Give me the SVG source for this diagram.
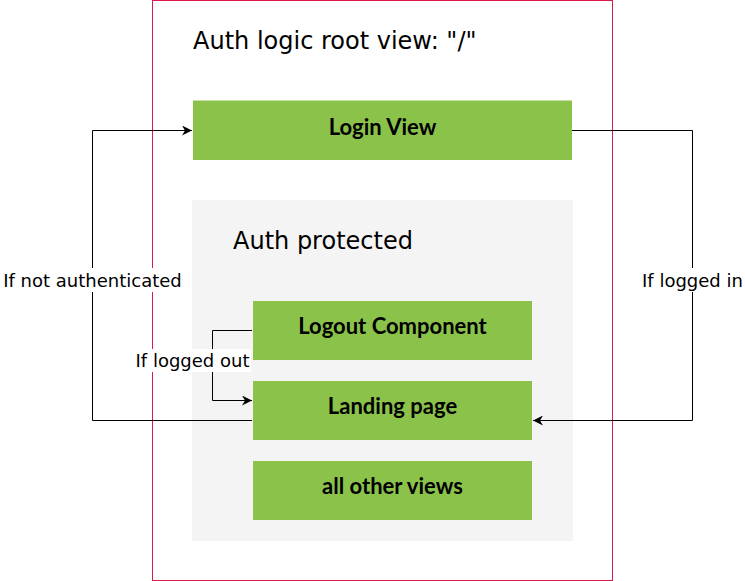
<svg xmlns="http://www.w3.org/2000/svg" width="745" height="581" viewBox="0 0 745 581">
<style>
.node{fill:#8BC34A;}
.nt{font-family:Lato,"Liberation Sans",sans-serif;font-weight:bold;font-size:22px;fill:#000;text-anchor:middle;}
.edge{fill:none;stroke:#000;stroke-width:1;}
.lbl{font-family:"DejaVu Sans",sans-serif;font-size:18px;fill:#000;text-anchor:middle;}
.title{font-family:"DejaVu Sans",sans-serif;font-size:24px;fill:#000;}
</style>
<defs>
<marker id="arr" markerWidth="10" markerHeight="10" refX="10" refY="5" orient="auto" markerUnits="userSpaceOnUse">
<path d="M0,0 L10,5 L0,10 L3,5 Z" fill="#000"/>
</marker>
</defs>
<rect width="745" height="581" fill="#fff"/>
<g id="root">
<rect x="152.5" y="0.5" width="460" height="580" fill="#fff" stroke="#DD1A4B" stroke-width="1"/>
<text class="title" x="193" y="49">Auth logic root view: "/"</text>
</g>
<g id="protected">
<rect x="192" y="200" width="381" height="341" fill="#F4F4F4"/>
<text class="title" x="233" y="249">Auth protected</text>
</g>
<g id="login">
<rect class="node" x="193" y="100.5" width="379" height="59.5"/>
<text class="nt" x="382.5" y="135">Login View</text>
</g>
<g id="logout">
<rect class="node" x="253" y="301" width="279" height="59"/>
<text class="nt" x="392.5" y="334">Logout Component</text>
</g>
<g id="landing">
<rect class="node" x="253" y="381" width="279" height="59"/>
<text class="nt" x="392.5" y="414">Landing page</text>
</g>
<g id="other">
<rect class="node" x="253" y="461" width="279" height="59"/>
<text class="nt" x="392.5" y="494">all other views</text>
</g>
<g id="connectors">
<path class="edge" d="M252,420.5 H92.5 V130.5 H192" marker-end="url(#arr)"/>
<rect x="1" y="268" width="183" height="24" fill="#fff"/>
<text class="lbl" x="92.5" y="287">If not authenticated</text>
<path class="edge" d="M572,130.5 H692.5 V420.5 H533" marker-end="url(#arr)"/>
<rect x="641" y="268" width="104" height="24" fill="#fff"/>
<text class="lbl" x="692.5" y="287">If logged in</text>
<path class="edge" d="M252,330.5 H212.5 V400.5 H252" marker-end="url(#arr)"/>
<rect x="133" y="349" width="118" height="23" fill="#fff"/>
<text class="lbl" x="192.5" y="367">If logged out</text>
</g>
</svg>
